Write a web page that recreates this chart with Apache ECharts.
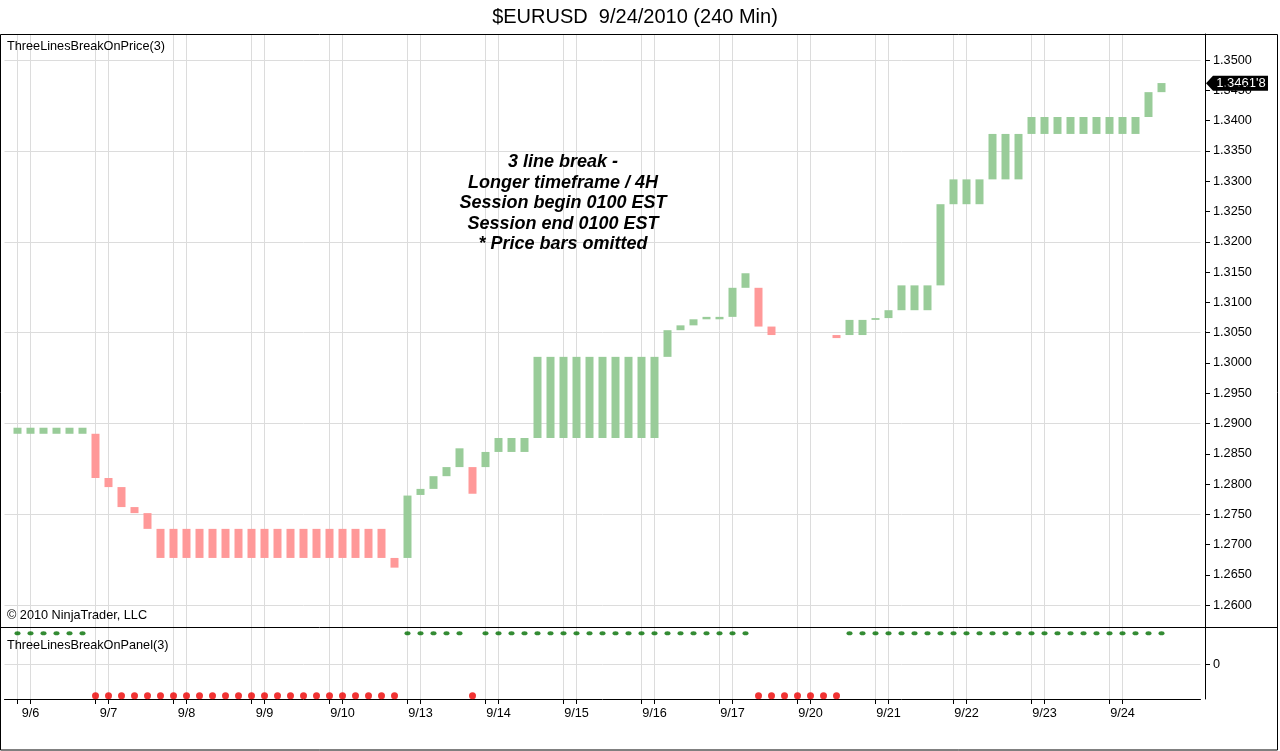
<!DOCTYPE html>
<html>
<head>
<meta charset="utf-8">
<title>$EURUSD 9/24/2010 (240 Min)</title>
<script src="https://cdn.jsdelivr.net/npm/echarts@6/dist/echarts.min.js"></script>
<style>
  html, body { margin: 0; padding: 0; background: #fff; }
  #chart { width: 1280px; height: 751px; }
</style>
</head>
<body>
<div id="chart"></div>
<script>
var days = ['9/6', '9/7', '9/8', '9/9', '9/10', '9/13', '9/14', '9/15', '9/16', '9/17', '9/20', '9/21', '9/22', '9/23', '9/24'];
var sessions = ['01:00', '05:00', '09:00', '13:00', '17:00', '21:00'];
var barCount = 89;

// three line break bricks, one per 240 min bar (null = bar omitted)
var brickOpen = [
  1.2883, 1.2883, 1.2883, 1.2883, 1.2883, 1.2883, // 9/6
  1.2883, 1.2810, 1.2795, 1.2762, 1.2752, 1.2726, // 9/7
  1.2726, 1.2726, 1.2726, 1.2726, 1.2726, 1.2726, // 9/8
  1.2726, 1.2726, 1.2726, 1.2726, 1.2726, 1.2726, // 9/9
  1.2726, 1.2726, 1.2726, 1.2726, 1.2726, 1.2678, // 9/10
  1.2678, 1.2782, 1.2792, 1.2813, 1.2828, 1.2828, // 9/13
  1.2828, 1.2853, 1.2853, 1.2853, 1.2876, 1.2876, // 9/14
  1.2876, 1.2876, 1.2876, 1.2876, 1.2876, 1.2876, // 9/15
  1.2876, 1.2876, 1.3010, 1.3054, 1.3062, 1.3072, // 9/16
  1.3072, 1.3076, 1.3124, 1.3124, 1.3060, null,   // 9/17
  null, null, null, 1.3046, 1.3046, 1.3046,       // 9/20
  1.3071, 1.3074, 1.3087, 1.3087, 1.3087, 1.3128, // 9/21
  1.3262, 1.3262, 1.3262, 1.3303, 1.3303, 1.3303, // 9/22
  1.3378, 1.3378, 1.3378, 1.3378, 1.3378, 1.3378, // 9/23
  1.3378, 1.3378, 1.3378, 1.3406, 1.3447          // 9/24
];
var brickClose = [
  1.2893, 1.2893, 1.2893, 1.2893, 1.2893, 1.2893,
  1.2810, 1.2795, 1.2762, 1.2752, 1.2726, 1.2678,
  1.2678, 1.2678, 1.2678, 1.2678, 1.2678, 1.2678,
  1.2678, 1.2678, 1.2678, 1.2678, 1.2678, 1.2678,
  1.2678, 1.2678, 1.2678, 1.2678, 1.2678, 1.2662,
  1.2781, 1.2792, 1.2813, 1.2828, 1.2859, 1.2784,
  1.2853, 1.2876, 1.2876, 1.2876, 1.3010, 1.3010,
  1.3010, 1.3010, 1.3010, 1.3010, 1.3010, 1.3010,
  1.3010, 1.3010, 1.3054, 1.3062, 1.3072, 1.3076,
  1.3076, 1.3124, 1.3148, 1.3060, 1.3046, null,
  null, null, null, 1.3041, 1.3071, 1.3071,
  1.3074, 1.3087, 1.3128, 1.3128, 1.3128, 1.3262,
  1.3303, 1.3303, 1.3303, 1.3378, 1.3378, 1.3378,
  1.3406, 1.3406, 1.3406, 1.3406, 1.3406, 1.3406,
  1.3406, 1.3406, 1.3406, 1.3447, 1.3462
];
// ThreeLinesBreakOnPanel(3): 1 = up, -1 = down
var trend = [
  1, 1, 1, 1, 1, 1,
  -1, -1, -1, -1, -1, -1,
  -1, -1, -1, -1, -1, -1,
  -1, -1, -1, -1, -1, -1,
  -1, -1, -1, -1, -1, -1,
  1, 1, 1, 1, 1, -1,
  1, 1, 1, 1, 1, 1,
  1, 1, 1, 1, 1, 1,
  1, 1, 1, 1, 1, 1,
  1, 1, 1, -1, -1, -1,
  -1, -1, -1, -1, 1, 1,
  1, 1, 1, 1, 1, 1,
  1, 1, 1, 1, 1, 1,
  1, 1, 1, 1, 1, 1,
  1, 1, 1, 1, 1
];

var priceTicks = [1.2600, 1.2650, 1.2700, 1.2750, 1.2800, 1.2850, 1.2900, 1.2950, 1.3000, 1.3050,
  1.3100, 1.3150, 1.3200, 1.3250, 1.3300, 1.3350, 1.3400, 1.3450, 1.3500];
var priceGridLevels = [1.2600, 1.2750, 1.2900, 1.3050, 1.3200, 1.3350, 1.3500];
var lastPrice = 1.34618;
var lastPriceText = "1.3461'8";

var FONT = 'Arial, "Liberation Sans", sans-serif';
var SMALL = 12.7;
var UP = '#99cc99', DOWN = '#ff9999';

// one leading and three trailing empty slots around the bars
var categories = ['pad0'];
days.forEach(function (d) {
  sessions.forEach(function (s) { categories.push(d + ' ' + s); });
});
categories = categories.slice(0, barCount + 1).concat(['pad1', 'pad2', 'pad3']);

var candleData = ['-'];
var dotData = ['-'];
for (var i = 0; i < barCount; i++) {
  var o = brickOpen[i], c = brickClose[i];
  candleData.push(o == null ? ['-', '-', '-', '-'] : [o, c, Math.min(o, c), Math.max(o, c)]);
  dotData.push(trend[i]);
}
candleData.push('-', '-', '-');
dotData.push('-', '-', '-');

function barIdx(idx) { return idx - 1; }
function isDayTick(idx) {
  var b = barIdx(idx);
  return b >= 0 && b < barCount && (b % 6 === 0 || b % 6 === 1);
}
function isDayLabel(idx) {
  var b = barIdx(idx);
  return b >= 0 && b < barCount && b % 6 === 1;
}

var chartDom = document.getElementById('chart');
var chart = echarts.init(chartDom);

var gridLine = { color: '#dcdcdc', width: 1 };
var graphics = [
  { id: 'frame', type: 'rect', silent: true, z: 100,
    shape: { x: 0.5, y: 34.5, width: 1277, height: 715.5 },
    style: { fill: 'none', stroke: '#000', lineWidth: 1 } },
  { id: 'sep', type: 'line', silent: true, z: 100,
    shape: { x1: 0, y1: 627.5, x2: 1278, y2: 627.5 },
    style: { stroke: '#000', lineWidth: 1 } },
  { id: 'note', type: 'text', x: 563, y: 152, z: 100,
    style: { text: '3 line break -\nLonger timeframe / 4H\nSession begin 0100 EST\nSession end 0100 EST\n* Price bars omitted',
      font: 'italic bold 18px ' + FONT, fill: '#000', textAlign: 'center', lineHeight: 20.5 } },
  { id: 'lblPrice', type: 'text', x: 7, y: 40, z: 100,
    style: { text: 'ThreeLinesBreakOnPrice(3)', font: SMALL + 'px ' + FONT, fill: '#000' } },
  { id: 'lblCopy', type: 'text', x: 7, y: 609, z: 100,
    style: { text: '\u00a9 2010 NinjaTrader, LLC', font: SMALL + 'px ' + FONT, fill: '#000' } },
  { id: 'lblPanel', type: 'text', x: 7, y: 639, z: 100,
    style: { text: 'ThreeLinesBreakOnPanel(3)', font: SMALL + 'px ' + FONT, fill: '#000' } }
];

var option = {
  animation: false,
  backgroundColor: '#fff',
  title: {
    text: '$EURUSD  9/24/2010 (240 Min)',
    left: 635, top: 7, padding: 0, textAlign: 'center',
    textStyle: { fontFamily: FONT, fontSize: 20, fontWeight: 'normal', color: '#000' }
  },
  grid: [
    { left: 4.5, width: 1196, top: 34, height: 593 },
    { left: 4.5, width: 1196, top: 627, height: 72 }
  ],
  xAxis: [
    {
      type: 'category', gridIndex: 0, data: categories, boundaryGap: false,
      axisLine: { show: false, onZero: false }, axisTick: { show: false }, axisLabel: { show: false },
      splitLine: { show: true, interval: isDayTick, lineStyle: gridLine }
    },
    {
      type: 'category', gridIndex: 1, data: categories, boundaryGap: false, position: 'bottom',
      axisLine: { show: true, onZero: false, lineStyle: { color: '#000', width: 1 } },
      axisTick: { show: true, interval: isDayTick, length: 5, lineStyle: { color: '#000' } },
      axisLabel: {
        show: true, interval: isDayLabel, color: '#000', fontSize: SMALL, fontFamily: FONT, margin: 8,
        formatter: function (v) { return v.split(' ')[0]; }
      },
      splitLine: { show: true, interval: isDayTick, lineStyle: gridLine }
    }
  ],
  yAxis: [
    {
      type: 'value', gridIndex: 0, position: 'right', offset: 4.5, min: 1.2564, max: 1.3543,
      axisLine: { show: true, lineStyle: { color: '#000', width: 1 } },
      axisTick: { show: true, length: 5, lineStyle: { color: '#000' }, customValues: priceTicks },
      axisLabel: {
        show: true, customValues: priceTicks, color: '#000', fontSize: SMALL, fontFamily: FONT, margin: 8,
        formatter: function (v) { return v.toFixed(4); }
      },
      splitLine: { show: false }
    },
    {
      type: 'value', gridIndex: 0, position: 'left', min: 1.2564, max: 1.3543,
      axisLine: { show: false },
      axisTick: { show: false, customValues: priceGridLevels },
      axisLabel: { show: false, customValues: priceGridLevels },
      splitLine: { show: true, lineStyle: gridLine }
    },
    {
      type: 'value', gridIndex: 1, position: 'right', offset: 4.5, min: -1.1, max: 1.2,
      axisLine: { show: true, lineStyle: { color: '#000', width: 1 } },
      axisTick: { show: true, length: 5, lineStyle: { color: '#000' }, customValues: [0] },
      axisLabel: {
        show: true, customValues: [0], color: '#000', fontSize: SMALL, fontFamily: FONT, margin: 8,
        formatter: function () { return '0'; }
      },
      splitLine: { show: true, lineStyle: gridLine }
    }
  ],
  series: [
    {
      name: 'ThreeLinesBreakOnPrice(3)',
      type: 'candlestick',
      xAxisIndex: 0, yAxisIndex: 0,
      barWidth: 9,
      data: candleData,
      itemStyle: { color: UP, color0: DOWN, borderColor: UP, borderColor0: DOWN, borderWidth: 0 }
    },
    {
      name: 'ThreeLinesBreakOnPanel(3)',
      type: 'scatter',
      xAxisIndex: 1, yAxisIndex: 2,
      data: dotData,
      symbol: 'circle',
      symbolSize: function (v) { return v > 0 ? [6, 4] : 7; },
      itemStyle: {
        color: function (p) { return p.value > 0 ? '#006e00' : '#ee0000'; }
      }
    }
  ],
  graphic: graphics
};

chart.setOption(option);

// last price marker on the price axis
var yLast = chart.convertToPixel({ yAxisIndex: 0 }, lastPrice);
graphics.push({
  id: 'lastPrice', type: 'group', z: 110,
  children: [
    { type: 'polygon', shape: { points: [[1206, yLast], [1213, yLast - 7.5], [1268, yLast - 7.5], [1268, yLast + 7.5], [1213, yLast + 7.5]] },
      style: { fill: '#000' } },
    { type: 'text', x: 1241, y: yLast,
      style: { text: lastPriceText, font: '13px ' + FONT, fill: '#fff', textAlign: 'center', textVerticalAlign: 'middle' } }
  ]
});
chart.setOption({ graphic: graphics });

window.addEventListener('resize', function () {
  chart.resize();
});
</script>
</body>
</html>
